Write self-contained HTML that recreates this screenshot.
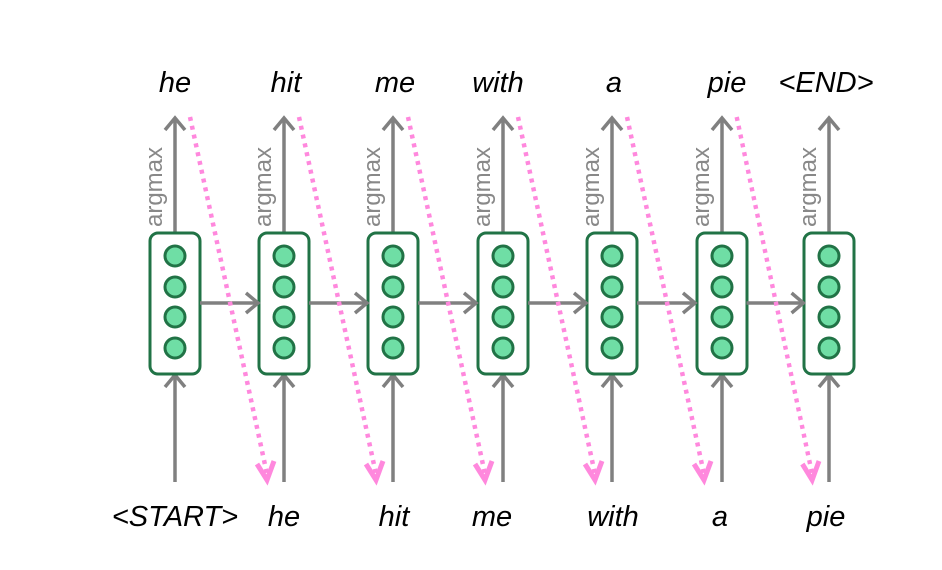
<!DOCTYPE html>
<html><head><style>
html,body{margin:0;padding:0;background:#fff;}
svg{display:block;}
.w{font-family:"Liberation Sans",sans-serif;font-style:italic;font-size:29px;fill:#000;text-anchor:middle;}
.g{font-family:"Liberation Sans",sans-serif;font-size:24px;fill:#888;}
</style></head><body>
<svg width="942" height="570" viewBox="0 0 942 570" xmlns="http://www.w3.org/2000/svg">
<defs>
<g id="col">
<line x1="0" y1="233" x2="0" y2="118" stroke="#808080" stroke-width="3.5"/>
<path d="M-10,130 L0,118 L10,130" fill="none" stroke="#808080" stroke-width="3.5"/>
<line x1="0" y1="482" x2="0" y2="375" stroke="#808080" stroke-width="3.5"/>
<path d="M-10,387 L0,375 L10,387" fill="none" stroke="#808080" stroke-width="3.5"/>
<rect x="-25" y="233" width="50" height="141" rx="8" fill="#fff" stroke="#217346" stroke-width="3"/>
<circle cx="0" cy="256" r="10" fill="#6fdea5" stroke="#217346" stroke-width="3"/>
<circle cx="0" cy="287" r="10" fill="#6fdea5" stroke="#217346" stroke-width="3"/>
<circle cx="0" cy="317" r="10" fill="#6fdea5" stroke="#217346" stroke-width="3"/>
<circle cx="0" cy="348" r="10" fill="#6fdea5" stroke="#217346" stroke-width="3"/>
</g>
<g id="link">
<line x1="25" y1="303" x2="83" y2="303" stroke="#808080" stroke-width="3.5"/>
<path d="M71,293 L83,303 L71,313" fill="none" stroke="#808080" stroke-width="3.5"/>
<line x1="15" y1="117" x2="92" y2="474" stroke="#ff88dd" stroke-width="4.5" stroke-dasharray="4,5"/>
<path d="M82,464 L92,480 L99,461" fill="none" stroke="#ff88dd" stroke-width="5"/>
</g>
</defs>
<use href="#col" transform="translate(175,0)"/>
<use href="#col" transform="translate(284,0)"/>
<use href="#col" transform="translate(393,0)"/>
<use href="#col" transform="translate(503,0)"/>
<use href="#col" transform="translate(612,0)"/>
<use href="#col" transform="translate(722,0)"/>
<use href="#col" transform="translate(829,0)"/>
<use href="#link" transform="translate(175,0)"/>
<use href="#link" transform="translate(284,0)"/>
<use href="#link" transform="translate(393,0)"/>
<use href="#link" transform="translate(503,0)"/>
<use href="#link" transform="translate(612,0)"/>
<use href="#link" transform="translate(722,0) scale(0.98,1)"/>
<text class="g" transform="translate(162,227) rotate(-90)">argmax</text>
<text class="g" transform="translate(271,227) rotate(-90)">argmax</text>
<text class="g" transform="translate(380,227) rotate(-90)">argmax</text>
<text class="g" transform="translate(490,227) rotate(-90)">argmax</text>
<text class="g" transform="translate(599,227) rotate(-90)">argmax</text>
<text class="g" transform="translate(709,227) rotate(-90)">argmax</text>
<text class="g" transform="translate(816,227) rotate(-90)">argmax</text>
<text class="w" x="175" y="92">he</text>
<text class="w" x="286" y="92">hit</text>
<text class="w" x="395" y="92">me</text>
<text class="w" x="498" y="92">with</text>
<text class="w" x="614" y="92">a</text>
<text class="w" x="727" y="92">pie</text>
<text class="w" x="826" y="92">&lt;END&gt;</text>
<text class="w" x="175" y="526">&lt;START&gt;</text>
<text class="w" x="284" y="526">he</text>
<text class="w" x="394" y="526">hit</text>
<text class="w" x="492" y="526">me</text>
<text class="w" x="613" y="526">with</text>
<text class="w" x="720" y="526">a</text>
<text class="w" x="826" y="526">pie</text>
</svg>
</body></html>
